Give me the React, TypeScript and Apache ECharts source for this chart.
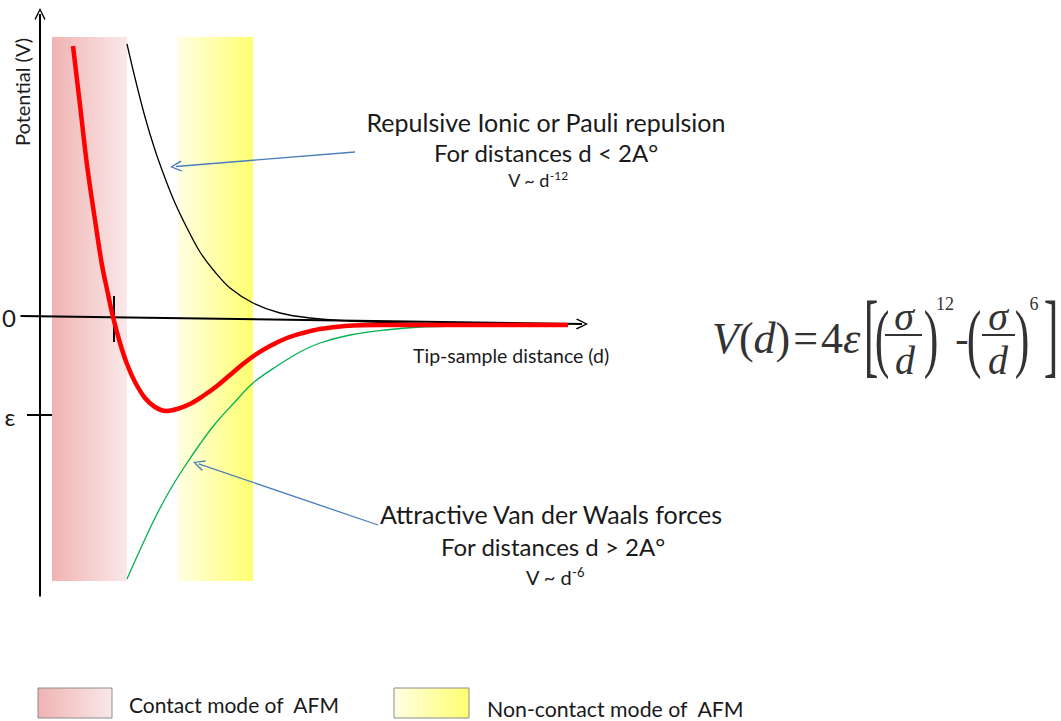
import React, { useEffect, useRef } from 'react';
import * as echarts from 'echarts';

// ---- data: arbitrary distance / potential units (epsilon level = -98) ----
const lennardJones: [number, number][] = [
  [33, 271], [40, 212], [47, 152], [55, 97], [62, 52], [68, 23], [73, 0], [80, -26],
  [87, -47], [95, -65], [105, -81], [115, -90], [126, -94], [137, -92], [150, -87],
  [163, -79], [177, -69], [190, -58], [203, -47], [215, -38], [230, -29], [247, -21],
  [263, -16], [280, -12], [305, -9], [340, -8], [410, -8], [528, -8],
];
const repulsive: [number, number][] = [
  [87, 273], [95, 239], [105, 200], [115, 167], [125, 139], [135, 114], [147, 89],
  [160, 65], [175, 45], [190, 29], [213, 14], [240, 4], [270, -1], [310, -4],
  [360, -6], [410, -7],
];
const attractive: [number, number][] = [
  [87, -262], [100, -233], [115, -201], [130, -173], [145, -149], [160, -127],
  [175, -107], [193, -87], [213, -66], [237, -49], [260, -35], [280, -26], [310, -18],
  [345, -13], [380, -10], [420, -9], [460, -8],
];
const contactBand = [12, 87];
const nonContactBand = [138, 213];
const bandTop = 280;
const bandBottom = -264;
const epsilonLevel = -98;
const sigmaDistance = 74;

const X_MIN = -20;
const X_MAX = 550;
const Y_MIN = -280;
const Y_MAX = 309;

const SANS = 'Lato, "Open Sans", sans-serif';
const SERIF = '"Liberation Serif", "DejaVu Serif", serif';
const CHEVRON = 'path://M10,0 L20,16 L18,17.5 L10,4 L2,17.5 L0,16 Z';
const INK = '#1a1a1a';
const MATH = '#333333';

function txt(x: number, y: number, text: string, fontSize: number, extra: any = {}, styleExtra: any = {}) {
  return {
    type: 'text',
    x,
    y,
    silent: true,
    ...extra,
    style: {
      text,
      fontSize,
      fontFamily: SANS,
      fill: INK,
      align: 'center',
      verticalAlign: 'middle',
      ...styleExtra,
    },
  };
}

function mathGlyph(x: number, y: number, text: string, fontSize: number, italic: boolean, scaleY = 1) {
  return {
    type: 'text',
    x,
    y,
    scaleY,
    silent: true,
    style: {
      text,
      fontSize,
      fontFamily: SERIF,
      fontStyle: italic ? 'italic' : 'normal',
      fill: MATH,
      align: 'center',
      verticalAlign: 'middle',
    },
  };
}

function superLine(x: number, y: number, base: string, sup: string, baseSize: number, supSize: number) {
  return {
    type: 'text',
    x,
    y,
    silent: true,
    style: {
      text: `{b|${base}}{s|${sup}}`,
      align: 'center',
      verticalAlign: 'middle',
      fill: INK,
      rich: {
        b: { fontSize: baseSize, fontFamily: SANS, lineHeight: baseSize + 4, fill: INK },
        s: { fontSize: supSize, fontFamily: SANS, verticalAlign: 'top', lineHeight: supSize + 1, fill: INK },
      },
    },
  };
}

export default function App() {
  const ref = useRef<HTMLDivElement>(null);
  useEffect(() => {
    document.body.style.margin = '0';
    if (!ref.current) return;
    const chart = echarts.init(ref.current, null, { renderer: 'svg' });

    const pinkGrad = new echarts.graphic.LinearGradient(0, 0, 1, 0, [
      { offset: 0, color: '#f0b3b3' },
      { offset: 1, color: '#fae8e8' },
    ]);
    const yellowGrad = new echarts.graphic.LinearGradient(0, 0, 1, 0, [
      { offset: 0, color: '#ffffe2' },
      { offset: 1, color: '#ffff70' },
    ]);

    const option: any = {
      animation: false,
      grid: { left: 20, top: 8, width: 570, height: 589, containLabel: false },
      xAxis: { type: 'value', min: X_MIN, max: X_MAX, show: false },
      yAxis: { type: 'value', min: Y_MIN, max: Y_MAX, show: false },
      series: [
        {
          type: 'line',
          name: 'bands',
          data: [[250, 0]],
          showSymbol: false,
          lineStyle: { width: 0 },
          silent: true,
          z: 1,
          markArea: {
            silent: true,
            label: { show: false },
            data: [
              [
                { coord: [contactBand[0], bandTop], itemStyle: { color: pinkGrad, opacity: 1 } },
                { coord: [contactBand[1], bandBottom] },
              ],
              [
                { coord: [nonContactBand[0], bandTop], itemStyle: { color: yellowGrad, opacity: 1 } },
                { coord: [nonContactBand[1], bandBottom] },
              ],
            ],
          },
        },
        {
          type: 'line',
          name: 'repulsive',
          data: repulsive,
          smooth: 0.35,
          showSymbol: false,
          silent: true,
          lineStyle: { color: '#000000', width: 1.3 },
          z: 3,
        },
        {
          type: 'line',
          name: 'attractive',
          data: attractive,
          smooth: 0.35,
          showSymbol: false,
          silent: true,
          lineStyle: { color: '#00b050', width: 1.3 },
          z: 3,
        },
        {
          type: 'line',
          name: 'axes',
          data: [[250, 0]],
          showSymbol: false,
          lineStyle: { width: 0 },
          silent: true,
          z: 4,
          markLine: {
            silent: true,
            animation: false,
            label: { show: false },
            symbolSize: [11, 12],
            lineStyle: { color: '#000000', width: 2, type: 'solid' },
            data: [
              [
                { coord: [-19.5, 1], symbol: 'none' },
                { coord: [542, -7], symbol: CHEVRON },
              ],
              [
                { coord: [0, Y_MIN + 0.5], symbol: 'none' },
                { coord: [0, 303], symbol: CHEVRON },
              ],
              [
                { coord: [-13, epsilonLevel], symbol: 'none' },
                { coord: [12, epsilonLevel], symbol: 'none' },
              ],
              [
                { coord: [sigmaDistance, 21], symbol: 'none' },
                { coord: [sigmaDistance, -25], symbol: 'none' },
              ],
            ],
          },
        },
        {
          type: 'line',
          name: 'potential',
          data: lennardJones,
          smooth: 0.35,
          showSymbol: false,
          silent: true,
          lineStyle: { color: '#ff0000', width: 4.5 },
          z: 5,
        },
        {
          type: 'line',
          name: 'pointers',
          data: [[250, 0]],
          showSymbol: false,
          lineStyle: { width: 0 },
          silent: true,
          z: 6,
          markLine: {
            silent: true,
            label: { show: false },
            symbolSize: [11, 12],
            lineStyle: { color: '#4a7ebb', width: 1.3, type: 'solid' },
            data: [
              [
                { coord: [315, 165], symbol: 'none' },
                { coord: [136, 150.5], symbol: CHEVRON },
              ],
              [
                { coord: [338, -208], symbol: 'none' },
                { coord: [158.7, -146.9], symbol: CHEVRON },
              ],
            ],
          },
        },
      ],
      graphic: [
        txt(21.5, 92, 'Potential (V)', 20, { rotation: Math.PI / 2 }),
        txt(9, 317, '0', 24),
        txt(10, 416, 'ε', 24),
        txt(101, 331, 'σ', 24),
        txt(413, 355, 'Tip-sample distance (d)', 19.5, {}, { align: 'left' }),
        txt(546, 122, 'Repulsive Ionic or Pauli repulsion', 25),
        txt(546, 152, 'For distances d < 2A°', 24),
        superLine(538, 180, 'V ~ d', '-12', 18, 12),
        txt(551, 514, 'Attractive Van der Waals forces', 25),
        txt(553, 546, 'For distances d > 2A°', 24),
        superLine(555, 577, 'V ~ d', '-6', 20, 13),
        // formula: V(d) = 4ε
        {
          type: 'text', x: 712, y: 338, silent: true,
          style: {
            text: '{i|V}{n|(}{i|d}{n|)}{e|=}{n|4}{i|ε}',
            align: 'left', verticalAlign: 'middle', fill: MATH,
            rich: {
              i: { fontSize: 44, fontFamily: SERIF, fontStyle: 'italic', fill: MATH },
              n: { fontSize: 44, fontFamily: SERIF, fill: MATH },
              e: { fontSize: 44, fontFamily: SERIF, fill: MATH, padding: [0, 3, 0, 3] },
            },
          },
        },
        mathGlyph(871, 335, '[', 44, false, 2.1),
        mathGlyph(882, 337, '(', 44, false, 1.75),
        mathGlyph(904, 316, 'σ', 40, true),
        { type: 'line', silent: true, shape: { x1: 885, y1: 335, x2: 922, y2: 335 }, style: { stroke: MATH, lineWidth: 2 } },
        mathGlyph(905, 360, 'd', 40, true),
        mathGlyph(931, 337, ')', 44, false, 1.75),
        mathGlyph(945, 304, '12', 18, false),
        mathGlyph(962, 338, '-', 40, false),
        mathGlyph(974, 337, '(', 44, false, 1.75),
        mathGlyph(998, 316, 'σ', 40, true),
        { type: 'line', silent: true, shape: { x1: 982, y1: 335, x2: 1015, y2: 335 }, style: { stroke: MATH, lineWidth: 2 } },
        mathGlyph(998, 360, 'd', 40, true),
        mathGlyph(1022, 337, ')', 44, false, 1.75),
        mathGlyph(1034, 304, '6', 18, false),
        mathGlyph(1051, 335, ']', 44, false, 2.1),
        // legend
        {
          type: 'rect', silent: true, shape: { x: 38, y: 688, width: 74, height: 30 },
          style: { fill: pinkGrad, stroke: '#8c8c8c', lineWidth: 1 },
        },
        txt(129, 704, 'Contact mode of  AFM', 21, {}, { align: 'left' }),
        {
          type: 'rect', silent: true, shape: { x: 394, y: 688, width: 75, height: 30 },
          style: { fill: yellowGrad, stroke: '#8c8c8c', lineWidth: 1 },
        },
        txt(487, 709, 'Non-contact mode of  AFM', 21.3, {}, { align: 'left' }),
      ],
    };
    chart.setOption(option);
    return () => chart.dispose();
  }, []);
  return (
    <div
      ref={ref}
      style={{ position: 'absolute', left: 0, top: 0, width: 1061, height: 721, background: '#ffffff' }}
    />
  );
}
